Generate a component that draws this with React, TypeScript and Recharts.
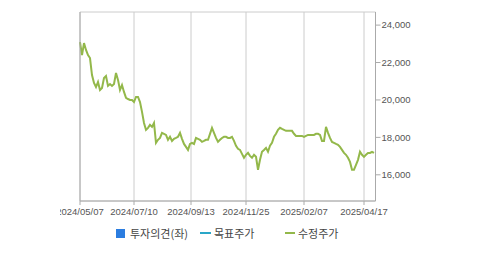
import React from 'react';
import { ComposedChart, Line, XAxis, YAxis, CartesianGrid, Legend } from 'recharts';

// 수정주가, one reading every ~2 trading days
const prices = [
  23090, 22400, 23040, 22670, 22400, 22240, 21330, 20910, 20690, 20960,
  20530, 20640, 21170, 21280, 20750, 20850, 20750, 20850, 21440, 21070,
  20530, 20800, 20430, 20110, 20050, 20000, 20000, 19890, 20160, 20160,
  19890, 19360, 18770, 18400, 18510, 18670, 18560, 18770, 17710, 17870,
  17970, 18240, 18190, 18130, 17870, 18030, 17810, 17920, 17970, 18030,
  18240, 17920, 17650, 17490, 17330, 17650, 17710, 17650, 17970, 17920,
  17870, 17760, 17810, 17870, 17870, 18190, 18510, 18240, 17970, 17760,
  17870, 17970, 18030, 18030, 17970, 17970, 18030, 17810, 17550, 17390,
  17330, 17120, 16910, 17070, 17170, 17010, 16910, 17070, 16960, 16270,
  16800, 17230, 17330, 17440, 17230, 17550, 17710, 18030, 18190, 18400,
  18510, 18450, 18400, 18350, 18350, 18350, 18350, 18190, 18080, 18080,
  18080, 18080, 18030, 18080, 18130, 18130, 18130, 18130, 18190, 18190,
  18130, 17810, 17810, 18560, 18240, 17970, 17760, 17710, 17650, 17600,
  17490, 17330, 17170, 17070, 16910, 16690, 16270, 16270, 16530, 16800,
  17230, 17070, 16960, 17070, 17170, 17170, 17230, 17170,
];

const dateLabels = ['2024/05/07', '2024/07/10', '2024/09/13', '2024/11/25', '2025/02/07', '2025/04/17'];
const dateIndex = [0, 27, 55.5, 83, 112, 142];
const priceTicks = [16000, 18000, 20000, 22000, 24000];

const data = prices.map((p, i) => ({ i, price: p }));

const axisText = { fontSize: 9.5, fill: '#555', fontFamily: '"Liberation Sans", Arial, sans-serif' };

function LegendBox() {
  const item: React.CSSProperties = { display: 'flex', alignItems: 'center', position: 'absolute', top: 0 };
  const label: React.CSSProperties = { fontSize: 11, color: '#444', fontFamily: '"Noto Sans CJK KR", sans-serif' };
  return (
    <div style={{ position: 'relative', height: 20 }}>
      <div style={{ ...item, left: 56 }}>
        <span style={{ width: 9, height: 9, background: '#2b7de0', display: 'inline-block', marginRight: 5 }} />
        <span style={label}>투자의견(좌)</span>
      </div>
      <div style={{ ...item, left: 140 }}>
        <span style={{ width: 11, height: 2, background: '#2aa7c8', display: 'inline-block', marginRight: 3 }} />
        <span style={label}>목표주가</span>
      </div>
      <div style={{ ...item, left: 225 }}>
        <span style={{ width: 10, height: 2, background: '#93b84a', display: 'inline-block', marginRight: 3 }} />
        <span style={label}>수정주가</span>
      </div>
    </div>
  );
}

export default function App() {
  return (
    <div style={{ position: 'absolute', left: 60, top: 0, width: 376, height: 255 }}>
      <ComposedChart width={376} height={255} data={data} margin={{ top: 12, right: 0, left: 0, bottom: 0 }}>
        <CartesianGrid yAxisId="left" stroke="#cccccc" strokeWidth={1} />
        <XAxis
          dataKey="i"
          type="number"
          domain={[0, 147.75]}
          ticks={dateIndex}
          interval={0}
          tickFormatter={(v) => dateLabels[dateIndex.indexOf(v)] ?? ''}
          tick={axisText}
          tickSize={4}
          tickMargin={3}
          stroke="#aaa"
          height={24}
        />
        <XAxis xAxisId="top" orientation="top" dataKey="i" type="number" domain={[0, 147.75]} tick={false} tickLine={false} stroke="#aaa" height={0} />
        <YAxis yAxisId="left" domain={[-1.0106, 1]} ticks={[0]} tick={axisText} tickSize={5} tickMargin={2} stroke="#aaa" width={20} />
        <YAxis
          yAxisId="right"
          orientation="right"
          domain={[14600, 24700]}
          ticks={priceTicks}
          tickFormatter={(v) => v.toLocaleString('en-US')}
          tick={axisText}
          tickSize={5}
          tickMargin={1}
          stroke="#aaa"
          width={60.5}
        />
        <Line
          yAxisId="right"
          type="linear"
          dataKey="price"
          stroke="#93b84a"
          strokeWidth={2}
          dot={false}
          isAnimationActive={false}
        />
        <Legend verticalAlign="bottom" height={30} content={() => <LegendBox />} />
      </ComposedChart>
    </div>
  );
}
